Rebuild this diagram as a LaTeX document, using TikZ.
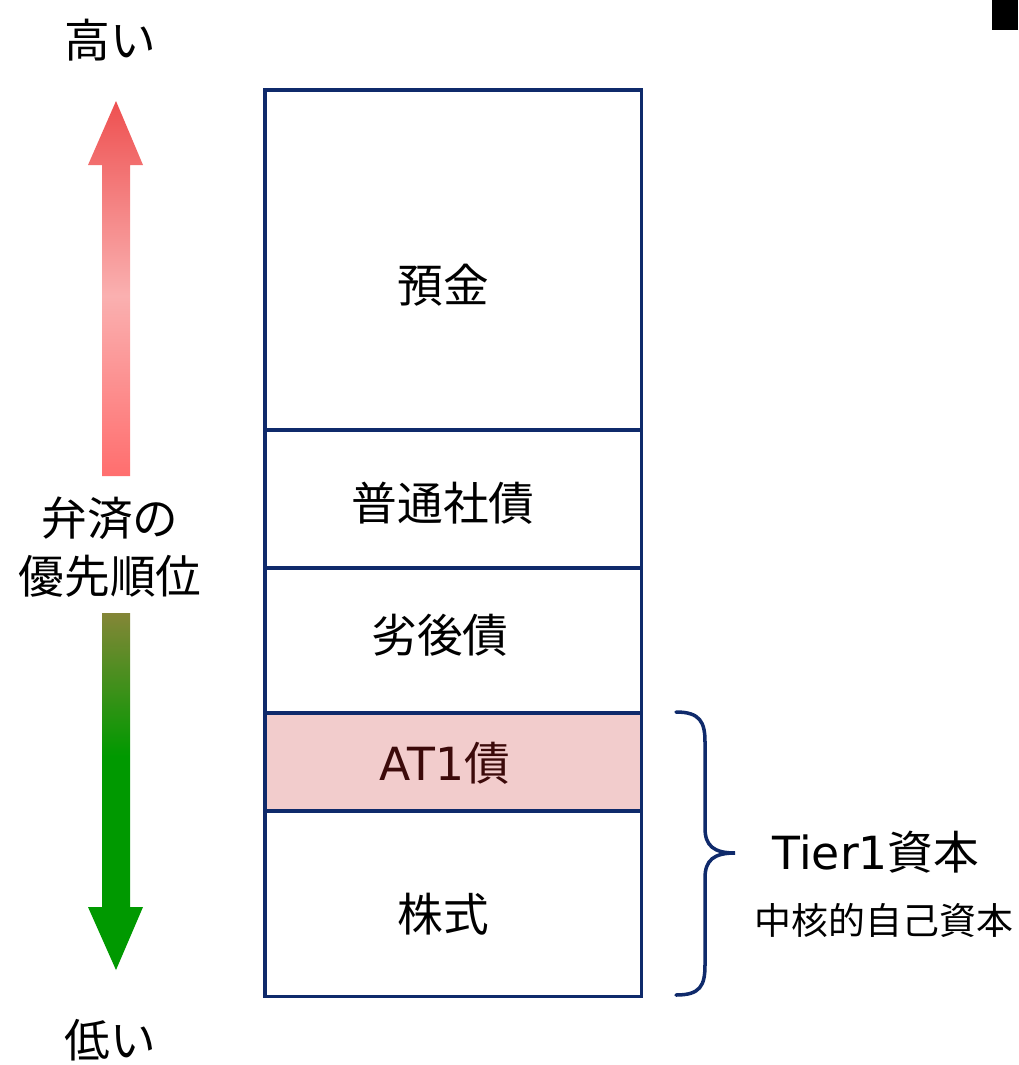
\documentclass[tikz,border=0pt]{standalone}
\usepackage{fontspec}
\setmainfont{Noto Sans CJK JP}
\newfontfamily\latinfont{DejaVu Sans}
\definecolor{navy}{HTML}{0F2A6B}
\definecolor{atfill}{HTML}{F2CCCC}
\definecolor{attext}{HTML}{3C0A0A}
\definecolor{redtop}{HTML}{EE5050}
\definecolor{redmid}{HTML}{FAB0B0}
\definecolor{redbot}{HTML}{FF6E6E}
\definecolor{olivetop}{HTML}{848637}
\definecolor{greenbot}{HTML}{009900}
\pgfdeclareverticalshading{redarrow}{100bp}{color(0bp)=(redbot); color(25bp)=(redbot); color(49bp)=(redmid); color(75bp)=(redtop); color(100bp)=(redtop)}
\pgfdeclareverticalshading{greenarrow}{100bp}{color(0bp)=(greenbot); color(25bp)=(greenbot); color(55bp)=(greenbot); color(75bp)=(olivetop); color(100bp)=(olivetop)}
\tikzset{
  rowbox/.style={draw=navy, line width=2pt, minimum width=7.54cm, inner sep=0pt, anchor=north west},
  big/.style={font=\fontsize{26pt}{30pt}\selectfont, inner sep=0pt},
  small/.style={font=\fontsize{21pt}{25pt}\selectfont, inner sep=0pt},
  bracestyle/.style={draw=navy, line width=2pt, line cap=round}
}
\begin{document}
\begin{tikzpicture}[x=0.02cm, y=-0.02cm]
\useasboundingbox (0,0) rectangle (1018,1065);
\fill[black] (992,0) rectangle (1018,30);
% arrows
\shade[shading=redarrow]
  (102,476) -- (102,165) -- (88,165) -- (116,101) -- (143,165) -- (130,165) -- (130,476) -- cycle;
\shade[shading=greenarrow]
  (102,613) -- (102,907) -- (88,907) -- (116,970) -- (143,907) -- (130,907) -- (130,613) -- cycle;
\node[big] (high) at (110,40) {高い};
\node[big] (pr1) at (110,518) {弁済の};
\node[big] (pr2) at (110,576) {優先順位};
\node[big] (low) at (110,1040) {低い};
% stack
\node[rowbox, minimum height=6.8cm] (r1) at (263,88) {};
\node[rowbox, minimum height=2.76cm] (r2) at (263,428) {};
\node[rowbox, minimum height=2.9cm] (r3) at (263,566) {};
\node[rowbox, minimum height=1.96cm, fill=atfill] (r4) at (263,711) {};
\node[rowbox, minimum height=3.72cm] (r5) at (263,809) {};
\node[big] (t1) at (443,285) {預金};
\node[big] (t2) at (443,503) {普通社債};
\node[big] (t3) at (440,635) {劣後債};
\node[big, text=attext] (t4) at (445,763) {{\latinfont AT1}債};
\node[big] (t5) at (443,914) {株式};
% brace
\coordinate (btop) at (676,712);
\coordinate (btip) at (735,853);
\coordinate (bbot) at (676,995);
\draw[bracestyle] (btop) .. controls (700,712) and (705,722) .. (705,742) -- (705,828)
  .. controls (705,846) and (714,853) .. (btip)
  .. controls (714,853) and (705,860) .. (705,878) -- (705,965)
  .. controls (705,986) and (700,995) .. (bbot);
\node[big] (tier) at (876,852) {{\latinfont Tier1}資本};
\node[small] (core) at (884,920) {中核的自己資本};
\end{tikzpicture}
\end{document}
